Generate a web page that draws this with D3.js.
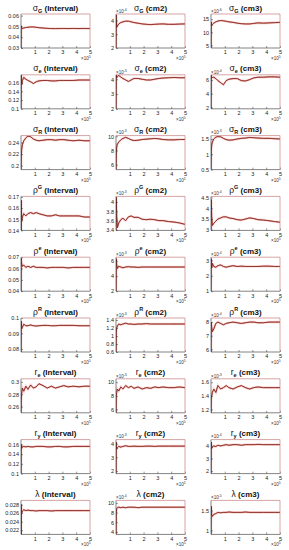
<!DOCTYPE html>
<html><head><meta charset="utf-8">
<script src="https://cdn.jsdelivr.net/npm/d3@7"></script>
<style>body{margin:0;background:#fff}svg{display:block;font-family:"Liberation Sans",Arial,Helvetica,sans-serif}</style>
</head><body><svg id="c" width="289" height="550"></svg>
<script>
// iteration sample positions (units of 10^5)
const xSamples = [0, 0.02, 0.05, 0.1, 0.2, 0.35, 0.5, 0.7, 0.9, 1.1, 1.3, 1.6, 1.9, 2.2, 2.5, 2.8, 3.1, 3.4, 3.8, 4.2, 4.6, 5.0];
const xTicks = [1, 2, 3, 4, 5];
const paramSymbols = ["σ","σ","σ","ρ","ρ","ρ","r","r","λ"];
const paramIndex   = ["G","e","R","G","e","R","e","y",""];
const indexKind    = ["sub","sub","sub","sup","sup","sup","sub","sub",""];
const modelNames = ["Interval","cm2","cm3"];

const yDomains = [
  [0.03,0.0615],[2,4.47],[4,17],
  [0.1,0.178],[2,4.3],[1.8,6.75],
  [0.193,0.252],[5.3,10.1],[0.5,1.61],
  [0.14,0.1705],[3.39,4.12],[2.97,4.55],
  [0.04,0.07],[2,6.5],[1,3.2],
  [0.078,0.1],[0.6,1.45],[5.8,8.3],
  [0.25,0.305],[5.5,10.5],[1.15,1.65],
  [0.1,0.17],[1.8,4.3],[1.8,4.5],
  [0.021,0.029],[3.5,10.5],[0.9,1.75]
];
const yTicks = [
  [0.03,0.04,0.05,0.06],[2,3,4],[5,10,15],
  [0.1,0.12,0.14,0.16],[2,3,4],[2,4,6],
  [0.2,0.22,0.24],[6,8,10],[0.5,1,1.5],
  [0.14,0.15,0.16,0.17],[3.4,3.6,3.8,4],[3,3.5,4,4.5],
  [0.04,0.05,0.06,0.07],[2,4,6],[1,2,3],
  [0.08,0.09,0.1],[0.6,0.8,1,1.2,1.4],[6,7,8],
  [0.26,0.28,0.3],[6,8,10],[1.2,1.4,1.6],
  [0.1,0.12,0.14,0.16],[2,3,4],[2,3,4],
  [0.022,0.024,0.026,0.028],[4,6,8,10],[1,1.5]
];
const yExponents = [
  null,"-4","-6",
  null,"-3","-4",
  null,"-3","-3",
  null,"-3","-4",
  null,"-3","-4",
  null,"-3","-4",
  null,"-3","-3",
  null,"-3","-4",
  null,"-4","-5"
];
const traceValues = [
  [0.03,0.0505,0.0485,0.048,0.0485,0.049,0.0492,0.0495,0.0495,0.0492,0.0488,0.0485,0.0482,0.048,0.048,0.048,0.0481,0.048,0.0481,0.048,0.0481,0.048],
  [2,4.4,3.5,3.6,3.75,3.85,3.9,3.95,3.95,3.9,3.85,3.8,3.75,3.72,3.7,3.72,3.74,3.75,3.72,3.72,3.74,3.75],
  [4,14,12.5,13,13.5,14,14.3,14.5,14.4,14.2,14,13.8,13.5,13.3,13.2,13.2,13.4,13.6,13.5,13.6,13.7,13.8],
  [0.1,0.178,0.155,0.165,0.172,0.168,0.165,0.162,0.158,0.162,0.164,0.165,0.165,0.164,0.164,0.165,0.165,0.165,0.165,0.166,0.166,0.166],
  [2,4.3,4.1,4.2,4.25,4.15,4.05,3.95,3.85,3.95,4.05,4.05,4.0,3.95,3.95,4.0,4.05,4.08,4.1,4.12,4.1,4.1],
  [1.8,6.7,6.3,6.35,6.4,6.2,5.9,5.6,5.3,5.9,6.1,6.2,6.2,5.9,5.85,6.05,6.3,6.4,6.4,6.45,6.45,6.4],
  [0.193,0.215,0.228,0.236,0.243,0.248,0.251,0.25,0.246,0.244,0.243,0.244,0.245,0.245,0.244,0.245,0.245,0.244,0.243,0.244,0.243,0.243],
  [5.3,7.5,8.5,8.9,9.2,9.5,9.7,9.85,9.7,9.5,9.4,9.45,9.55,9.6,9.65,9.7,9.65,9.55,9.5,9.5,9.55,9.55],
  [0.5,1.1,1.3,1.4,1.5,1.56,1.58,1.57,1.52,1.48,1.46,1.47,1.5,1.52,1.53,1.55,1.54,1.53,1.52,1.52,1.51,1.5],
  [0.14,0.167,0.148,0.152,0.155,0.153,0.155,0.156,0.155,0.156,0.155,0.154,0.153,0.153,0.154,0.153,0.153,0.153,0.153,0.153,0.152,0.152],
  [3.39,4.1,3.7,3.45,3.55,3.62,3.65,3.6,3.68,3.7,3.67,3.67,3.63,3.62,3.63,3.62,3.6,3.6,3.58,3.57,3.55,3.52],
  [2.97,4.4,3.6,3.2,3.3,3.4,3.5,3.55,3.6,3.6,3.55,3.52,3.47,3.45,3.5,3.55,3.52,3.47,3.45,3.42,3.38,3.35],
  [0.04,0.069,0.064,0.062,0.063,0.061,0.062,0.061,0.062,0.061,0.061,0.061,0.0605,0.061,0.061,0.061,0.061,0.0605,0.061,0.061,0.061,0.061],
  [2,6.3,5.5,5.0,5.3,5.2,5.1,5.2,5.25,5.2,5.2,5.15,5.2,5.2,5.2,5.2,5.2,5.2,5.2,5.2,5.2,5.2],
  [1,3.1,2.5,2.8,2.6,2.55,2.65,2.7,2.6,2.55,2.6,2.65,2.6,2.62,2.6,2.6,2.6,2.6,2.62,2.62,2.6,2.6],
  [0.078,0.098,0.093,0.094,0.096,0.095,0.095,0.0955,0.095,0.0948,0.095,0.0952,0.0952,0.095,0.095,0.0952,0.0952,0.0952,0.0952,0.095,0.095,0.095],
  [0.6,1.1,1.2,1.25,1.3,1.28,1.3,1.32,1.3,1.3,1.29,1.3,1.3,1.31,1.3,1.3,1.3,1.3,1.3,1.3,1.3,1.3],
  [5.8,8.0,7.6,7.3,7.5,7.9,8.0,7.9,7.8,7.9,7.95,8.0,7.95,7.9,7.95,8.0,8.0,7.95,7.95,8.0,8.0,8.0],
  [0.25,0.27,0.282,0.29,0.285,0.293,0.288,0.295,0.29,0.292,0.297,0.294,0.29,0.293,0.29,0.292,0.294,0.292,0.293,0.292,0.293,0.293],
  [5.5,8,8.5,9,8.7,9.3,9.0,9.5,9.2,9.4,9.1,9.3,9.0,9.2,9.1,9.3,9.2,9.3,9.2,9.2,9.3,9.2],
  [1.15,1.35,1.4,1.45,1.5,1.45,1.55,1.5,1.52,1.55,1.52,1.5,1.53,1.55,1.52,1.5,1.52,1.53,1.52,1.52,1.52,1.52],
  [0.1,0.16,0.152,0.155,0.156,0.155,0.156,0.155,0.155,0.156,0.156,0.156,0.155,0.155,0.156,0.156,0.155,0.155,0.156,0.156,0.156,0.156],
  [1.8,4.1,3.6,3.7,3.8,3.75,3.8,3.85,3.8,3.8,3.82,3.8,3.8,3.82,3.82,3.8,3.82,3.82,3.82,3.82,3.82,3.82],
  [1.8,4.3,3.8,3.9,4.0,3.95,4.05,4.0,4.05,4.1,4.05,4.1,4.1,4.05,4.1,4.1,4.1,4.12,4.1,4.1,4.1,4.1],
  [0.021,0.028,0.026,0.0265,0.0268,0.0266,0.0267,0.0266,0.0266,0.0265,0.0266,0.0266,0.0266,0.0265,0.0266,0.0266,0.0266,0.0266,0.0266,0.0266,0.0266,0.0266],
  [3.5,8,8.8,9.0,9.1,9.0,9.1,9.0,9.1,9.1,9.1,9.0,9.1,9.1,9.1,9.1,9.1,9.1,9.1,9.1,9.1,9.1],
  [0.9,1.6,1.4,1.35,1.4,1.42,1.45,1.44,1.45,1.45,1.46,1.45,1.45,1.45,1.46,1.45,1.45,1.45,1.45,1.45,1.45,1.45]
];
// initial (blue) burn-in spikes: panel index, x position, y range
const blueSpikePanels = [9, 24];
const blueSpikeX = [0.012, 0.012];
const blueSpikeY = [[0.14,0.166],[0.021,0.0278]];

const svg = d3.select("#c");
const colLeft = [21, 116, 211];
const plotW = 69, plotH = 34, rowTop0 = 14, rowStep = 60.8;

for (let r = 0; r < 9; r++) {
  for (let c = 0; c < 3; c++) {
    const i = r*3 + c;
    const L = colLeft[c], T = rowTop0 + r*rowStep;
    const x = d3.scaleLinear().domain([0,5]).range([L, L+plotW]);
    const y = d3.scaleLinear().domain(yDomains[i]).range([T+plotH, T]);
    const g = svg.append("g");
    g.append("clipPath").attr("id","cp"+i).append("rect")
      .attr("x",L).attr("y",T).attr("width",plotW).attr("height",plotH);

    const line = d3.line().x((d,k)=>x(xSamples[k])).y(d=>y(d));
    const tg = g.append("g").attr("clip-path","url(#cp"+i+")");
    tg.append("path").datum(traceValues[i]).attr("d",line)
      .attr("fill","none").attr("stroke","#f8c4c4").attr("stroke-width",2.6).attr("opacity",0.6);
    tg.append("path").datum(traceValues[i]).attr("d",line)
      .attr("fill","none").attr("stroke","#d8443c").attr("stroke-width",1.0).attr("opacity",0.85);
    tg.append("path").datum(traceValues[i]).attr("d",line)
      .attr("fill","none").attr("stroke","#6a2a20").attr("stroke-width",0.7);
    const bi = blueSpikePanels.indexOf(i);
    if (bi >= 0) {
      tg.append("line").attr("x1",x(blueSpikeX[bi])).attr("x2",x(blueSpikeX[bi]))
        .attr("y1",y(blueSpikeY[bi][0])).attr("y2",y(blueSpikeY[bi][1]))
        .attr("stroke","#2b3bd6").attr("stroke-width",1.2);
    }

    // axes
    const ya = d3.axisLeft(y).tickValues(yTicks[i]).tickSize(-2).tickPadding(2)
      .tickFormat(d => d3.format("~g")(d));
    const yg = g.append("g").attr("transform",`translate(${L},0)`).call(ya);
    const xa = d3.axisBottom(x).tickValues(xTicks).tickSize(-2).tickPadding(2.5).tickFormat(d3.format("d"));
    const xg = g.append("g").attr("transform",`translate(0,${T+plotH})`).call(xa);
    [yg, xg].forEach(a => {
      a.select(".domain").remove();
      a.selectAll("line").attr("stroke","#333").attr("stroke-width",0.5);
      a.selectAll("text").attr("font-size",5.5).attr("fill","#222");
    });
    // box
    g.append("line").attr("x1",L).attr("x2",L).attr("y1",T).attr("y2",T+plotH).attr("stroke","#303030").attr("stroke-width",0.6);
    g.append("line").attr("x1",L).attr("x2",L+plotW).attr("y1",T+plotH).attr("y2",T+plotH).attr("stroke","#303030").attr("stroke-width",0.6);
    g.append("line").attr("x1",L).attr("x2",L+plotW).attr("y1",T).attr("y2",T).attr("stroke","#c77d80").attr("stroke-width",0.7);
    g.append("line").attr("x1",L+plotW).attr("x2",L+plotW).attr("y1",T).attr("y2",T+plotH).attr("stroke","#c77d80").attr("stroke-width",0.7);

    // x exponent
    const xe = g.append("text").attr("x",L+plotW-9).attr("y",T+plotH+12).attr("font-size",4.5).attr("fill","#333");
    xe.append("tspan").text("×10");
    xe.append("tspan").attr("dy",-2).attr("font-size",3.5).text("5");
    // y exponent
    if (yExponents[i]) {
      const ye = g.append("text").attr("x",L).attr("y",T-1.2).attr("font-size",4.5).attr("fill","#333");
      ye.append("tspan").text("×10");
      ye.append("tspan").attr("dy",-2).attr("font-size",3.5).text(yExponents[i]);
    }
    // title
    const t = g.append("text").attr("x",L+plotW/2).attr("y",T-3.5).attr("text-anchor","middle").attr("fill","#111");
    t.append("tspan").attr("font-size",8.5).text(paramSymbols[r]);
    if (paramIndex[r]) {
      const dy = indexKind[r]==="sub" ? 2 : -3.5;
      t.append("tspan").attr("font-size",5.5).attr("font-weight","bold").attr("dy",dy).text(paramIndex[r]);
      t.append("tspan").attr("font-size",8).attr("font-weight","bold").attr("dy",-dy).text(" (" + modelNames[c] + ")");
    } else {
      t.append("tspan").attr("font-size",8).attr("font-weight","bold").text(" (" + modelNames[c] + ")");
    }
  }
}
</script></body></html>
